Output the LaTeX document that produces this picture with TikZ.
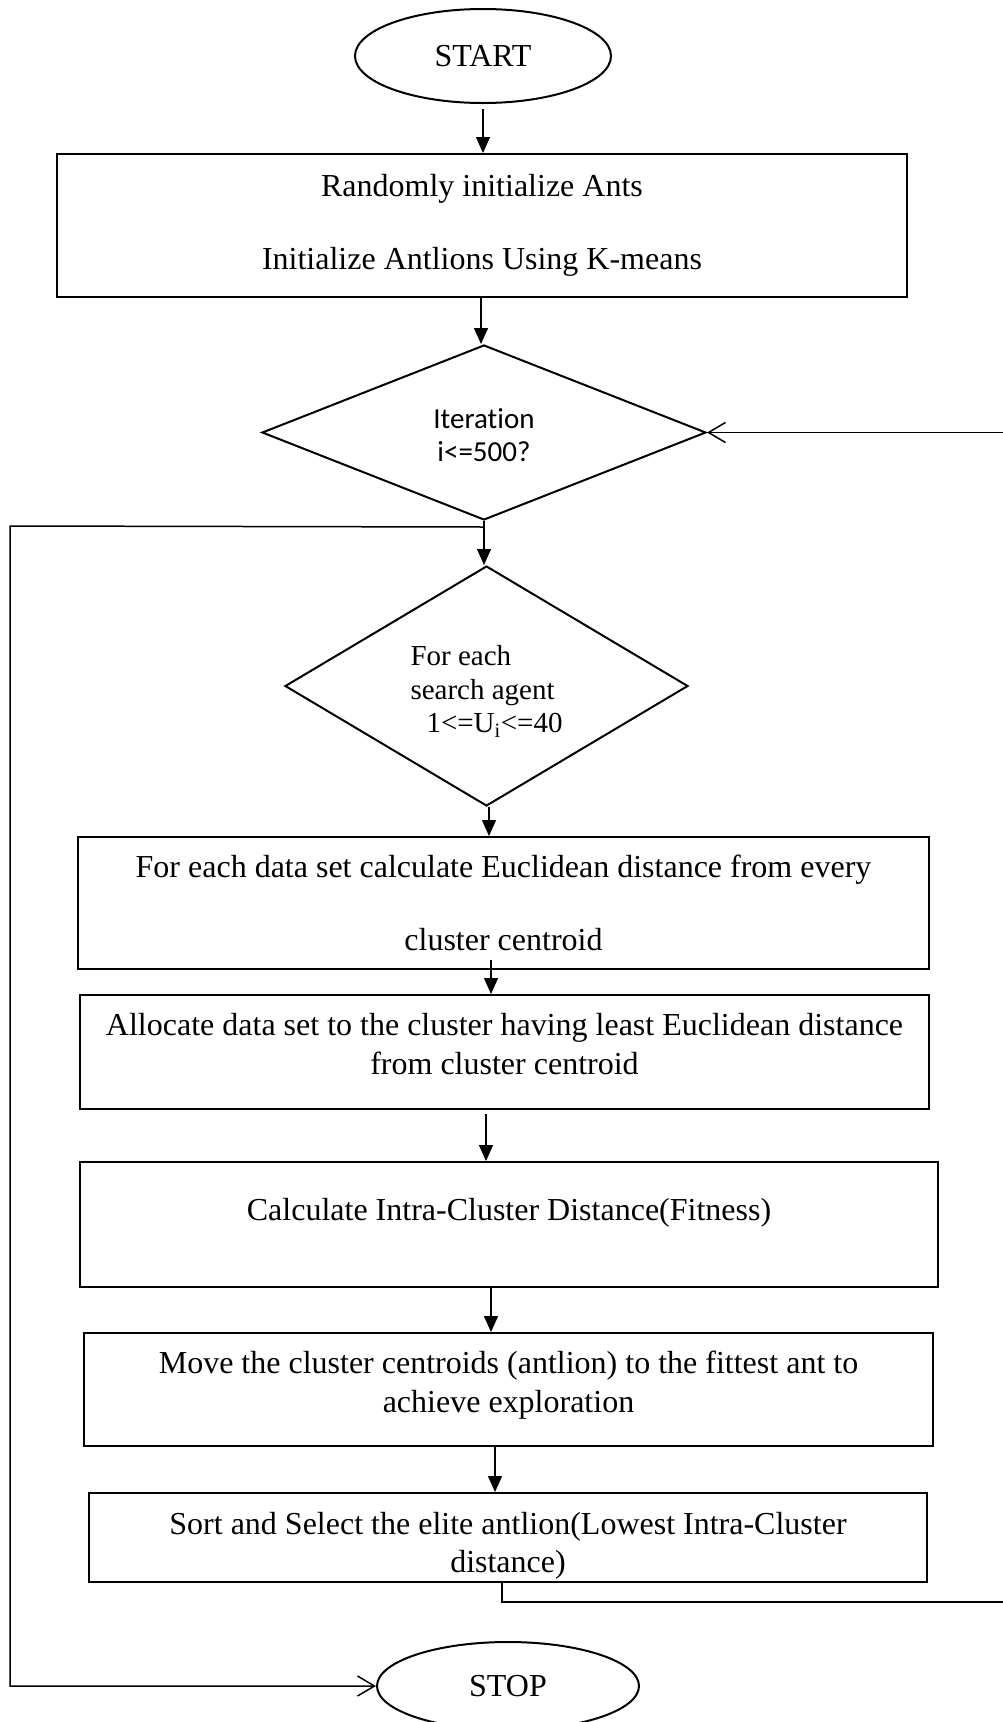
\documentclass[tikz,border=0pt]{standalone}
\usepackage{fontspec}
\setmainfont{Liberation Serif}
\newfontfamily\calibrifont[Ligatures=NoCommon]{Carlito}
\usetikzlibrary{shapes.geometric,arrows.meta}

\begin{document}
\begin{tikzpicture}[x=1pt,y=-1pt,
  procbox/.style={draw,line width=2pt,rectangle,inner sep=0pt,align=center,
    font=\fontsize{32}{38.5}\selectfont},
  termnode/.style={draw,line width=2pt,ellipse,inner sep=0pt,
    font=\fontsize{32}{38.5}\selectfont},
  decnode/.style={draw,line width=2pt,diamond,aspect=2,inner sep=0pt},
  flow/.style={line width=1.3pt,-{Triangle[length=16pt,width=14pt]}},
  back/.style={line width=1.5pt,-{Straight Barb[length=17pt,width=20pt,line width=1.5pt]}}
]
% Fixing the page
\useasboundingbox (0,0) rectangle (1003,1722);

% Drawing terminal START
\node[termnode,minimum width=256,minimum height=94] (start) at (483,56) {START};

% Drawing box init
\node[procbox,minimum width=850,minimum height=143] (init) at (482,225.5)
  {Randomly initialize Ants\\[34pt]Initialize Antlions Using K-means};

% Drawing decision iter
\node[decnode,minimum width=444,minimum height=175,align=center,text height=59pt,
  font=\calibrifont\fontsize{29}{33}\selectfont] (iter) at (484,432.5)
  {Iteration\\i<=500?};

% Drawing decision agent
\node[decnode,minimum width=403,minimum height=240,align=left,text height=98pt,
  font=\fontsize{29}{33.5}\selectfont] (agent) at (486.5,686)
  {For each\\search agent\\\hspace*{16pt}1<=U\textsubscript{i}<=40};

% Drawing box dist
\node[procbox,minimum width=851,minimum height=132] (dist) at (503.5,903)
  {For each data set calculate Euclidean distance from every\\[34pt]cluster centroid};

% Drawing box alloc
\node[procbox,minimum width=849,minimum height=114,text depth=16pt] (alloc) at (504.5,1052)
  {Allocate data set to the cluster having least Euclidean distance\\from cluster centroid};

% Drawing box fit
\node[procbox,minimum width=858,minimum height=125,text depth=30pt] (fit) at (509,1224.5)
  {Calculate Intra-Cluster Distance(Fitness)};

% Drawing box move
\node[procbox,minimum width=849,minimum height=113,text depth=16pt] (move) at (508.5,1389.5)
  {Move the cluster centroids (antlion) to the fittest ant to\\achieve exploration};

% Drawing box elite
\node[procbox,minimum width=838,minimum height=89,text height=77pt] (elite) at (508,1537.5)
  {Sort and Select the elite antlion(Lowest Intra-Cluster\\distance)};

% Drawing terminal STOP
\node[termnode,minimum width=262,minimum height=88] (stop) at (508,1686) {STOP};

% Marking bend points of the loops
\coordinate (lft) at (10,526);
\coordinate (rgt) at (1020,1602);

% Drawing arrows down the chart
\draw[flow] ([yshift=-5pt]start.south) -- (start.south |- init.north);
\draw[flow] ([xshift=-1pt]init.south) -- ([xshift=-1pt]init.south |- iter.north);
\draw[flow] (iter.south) -- (iter.south |- agent.north);
\draw[flow] ([xshift=2.5pt]agent.south) -- ([xshift=2.5pt]agent.south |- dist.north);
\draw[flow] ([xshift=-12.5pt,yshift=10pt]dist.south) -- ([xshift=-12.5pt]dist.south |- alloc.north);
\draw[flow] ([xshift=-18.5pt,yshift=-4pt]alloc.south) -- ([xshift=-18.5pt]alloc.south |- fit.north);
\draw[flow] ([xshift=-18pt]fit.south) -- ([xshift=-18pt]fit.south |- move.north);
\draw[flow] ([xshift=-13.5pt]move.south) -- ([xshift=-13.5pt]move.south |- elite.north);

% Drawing loop to STOP
\draw[back] ([yshift=-6pt]iter.south) -- (lft) |- (stop.west);

% Drawing loop back to iter
\draw[back] ([xshift=-6pt]elite.south) |- (rgt) |- (iter.east);
\end{tikzpicture}
\end{document}
